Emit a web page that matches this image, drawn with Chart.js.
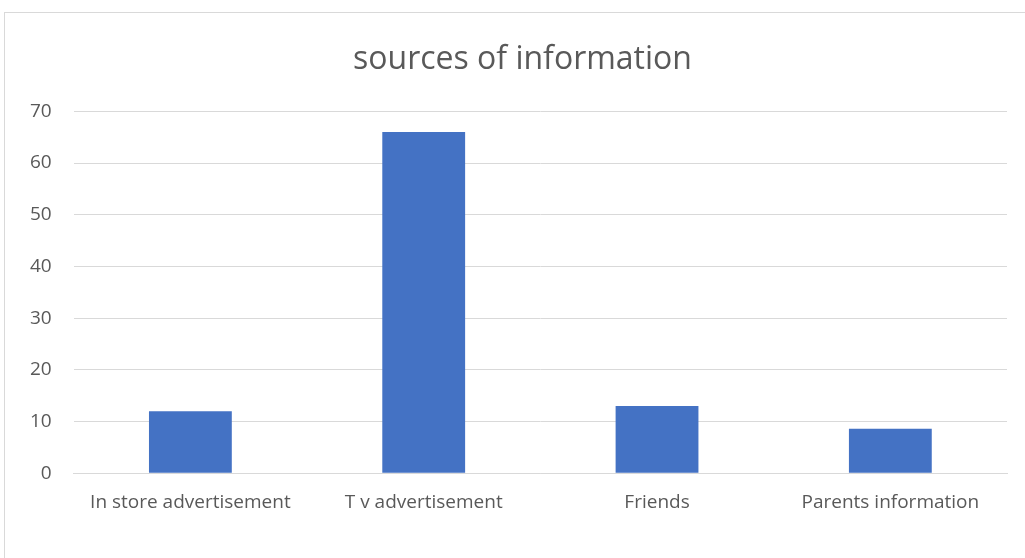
<!DOCTYPE html>
<html>
<head>
<meta charset="utf-8">
<script src="https://cdn.jsdelivr.net/npm/chart.js@4"></script>
<style>
  html, body { margin: 0; padding: 0; background: #fff; }
  #frame {
    position: absolute; left: 4px; top: 12px; width: 1030px; height: 560px;
    border: 1px solid #d9d9d9; box-sizing: border-box;
  }
  #wrap { position: absolute; left: 0; top: 0; width: 1025px; height: 558px; }
</style>
</head>
<body>
<div id="frame"></div>
<div id="wrap"><canvas id="chart"></canvas></div>
<script>
const categories = ['In store advertisement', 'T v advertisement', 'Friends', 'Parents information'];
const values = [12, 66, 13, 8.6];
const yTicks = [0, 10, 20, 30, 40, 50, 60, 70];

// nudge the title box so the text centres where the original has it
const titleShift = {
  id: 'titleShift',
  afterLayout(chart) {
    if (chart.titleBlock) chart.titleBlock.left += 30;
  }
};

const ctx = document.getElementById('chart').getContext('2d');
new Chart(ctx, {
  type: 'bar',
  data: {
    labels: categories,
    datasets: [{
      label: 'sources of information',
      data: values,
      backgroundColor: '#4472c4',
      borderWidth: 0,
      categoryPercentage: 1,
      barPercentage: 0.355
    }]
  },
  options: {
    responsive: true,
    maintainAspectRatio: false,
    animation: false,
    layout: { padding: { left: 8, right: 18, top: 37, bottom: 34 } },
    plugins: {
      legend: { display: false },
      tooltip: { enabled: false },
      title: {
        display: true,
        text: 'sources of information',
        color: '#595959',
        font: { family: 'Open Sans', size: 32, weight: 'normal' },
        padding: { top: 4, bottom: 32 }
      }
    },
    scales: {
      x: {
        grid: { display: false },
        border: { color: '#d9d9d9' },
        ticks: { color: '#595959', font: { family: 'Open Sans', size: 19 }, padding: 10 }
      },
      y: {
        min: 0,
        max: 70,
        afterBuildTicks: axis => { axis.ticks = yTicks.map(v => ({ value: v })); },
        grid: { color: '#d9d9d9', lineWidth: 1, drawTicks: false },
        border: { display: false },
        ticks: { color: '#595959', font: { family: 'Open Sans', size: 19 }, padding: 22 }
      }
    }
  },
  plugins: [titleShift]
});
</script>
</body>
</html>
